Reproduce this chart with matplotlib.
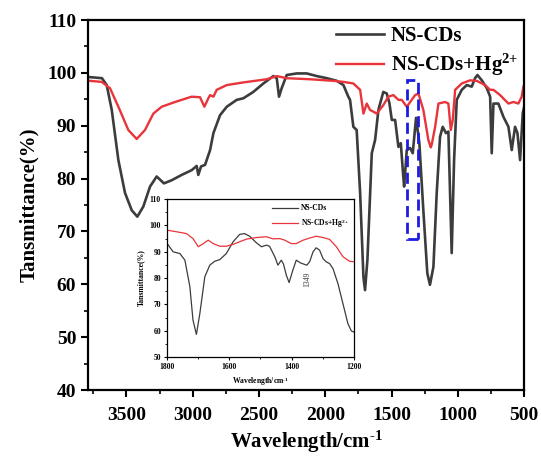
import numpy as np
import matplotlib.pyplot as plt
from matplotlib.patches import Rectangle
from matplotlib.ticker import MultipleLocator

plt.rcParams['font.family'] = ['Liberation Serif', 'DejaVu Serif']
plt.rcParams['font.weight'] = 'bold'
plt.rcParams['mathtext.fontset'] = 'custom'
plt.rcParams['mathtext.rm'] = 'Liberation Serif:bold'
plt.rcParams['mathtext.bf'] = 'Liberation Serif:bold'
plt.rcParams['mathtext.it'] = 'Liberation Serif:bold'

# ============
# main spectrum data (wavenumber / transmittance)
# ============
wn_cds = [3775, 3685, 3649, 3611, 3561, 3511, 3460, 3418, 3373, 3322, 3272, 3217,
          3158, 3083, 3008, 2970, 2958, 2937, 2907, 2869, 2844, 2794, 2743, 2668,
          2618, 2543, 2467, 2392, 2366, 2349, 2329, 2291, 2215, 2140, 2064, 1989,
          1913, 1863, 1826, 1813, 1788, 1763, 1737, 1712, 1700, 1682, 1649, 1624,
          1599, 1562, 1536, 1516, 1498, 1473, 1448, 1430, 1415, 1405, 1385, 1360,
          1340, 1315, 1290, 1260, 1230, 1210, 1184, 1159, 1134, 1114, 1089, 1071,
          1046, 1028, 1008, 970, 932, 895, 870, 852, 819, 781, 756, 744, 731, 694,
          656, 618, 593, 568, 550, 530, 510, 500]
tr_cds = [99.2, 99.0, 97.7, 93.0, 83.5, 77.3, 74.0, 72.8, 74.7, 78.5, 80.4, 79.1,
          79.7, 80.7, 81.6, 82.4, 80.7, 82.3, 82.6, 85.4, 88.6, 92.0, 93.6, 94.9,
          95.2, 96.4, 98.0, 99.4, 99.0, 95.5, 97.1, 99.6, 99.9, 99.9, 99.4, 99.0,
          98.5, 97.7, 95.5, 94.9, 89.8, 89.2, 77.3, 61.4, 58.9, 64.6, 84.8, 87.3,
          93.0, 96.4, 96.1, 94.3, 91.1, 91.1, 86.0, 86.7, 81.6, 78.5, 85.4, 85.8,
          84.8, 91.5, 86.7, 74.0, 62.1, 59.9, 63.3, 77.3, 87.9, 89.8, 88.6, 88.9,
          65.9, 83.5, 94.9, 96.8, 97.7, 97.4, 99.0, 99.6, 98.6, 97.1, 95.5, 84.8,
          94.2, 94.2, 91.7, 89.8, 85.4, 89.8, 88.6, 83.5, 92.4, 93.5]

wn_hg = [3775, 3687, 3624, 3561, 3486, 3423, 3360, 3297, 3234, 3133, 3008, 2945,
         2912, 2882, 2869, 2844, 2819, 2743, 2618, 2442, 2366, 2291, 2115, 1939,
         1863, 1788, 1737, 1712, 1687, 1662, 1611, 1562, 1524, 1486, 1448, 1423,
         1385, 1322, 1297, 1260, 1222, 1204, 1197, 1171, 1146, 1096, 1071, 1053,
         1038, 1020, 970, 907, 857, 794, 756, 731, 681, 618, 580, 543, 518, 505]
tr_hg = [98.5, 98.3, 97.1, 93.6, 89.2, 87.5, 89.2, 92.3, 93.6, 94.5, 95.5, 95.4,
         93.6, 95.2, 95.8, 95.5, 96.8, 97.7, 98.2, 98.8, 99.4, 99.0, 98.8, 98.5,
         98.3, 98.0, 96.8, 92.3, 94.2, 93.0, 92.3, 93.9, 95.5, 95.8, 94.9, 94.9,
         93.6, 95.8, 96.1, 93.0, 87.3, 85.9, 86.4, 89.8, 94.2, 94.5, 94.2, 89.2,
         91.1, 96.8, 98.0, 98.6, 98.5, 97.7, 96.8, 96.8, 95.8, 94.2, 94.5, 94.2,
         95.5, 97.4]

# ============
# inset data (1800-1200 cm-1)
# ============
wn_cds_in = [1800, 1781, 1759, 1743, 1727, 1717, 1706, 1695, 1679, 1663, 1647, 1631,
             1610, 1588, 1567, 1551, 1535, 1513, 1497, 1481, 1471, 1454, 1444, 1433,
             1426, 1417, 1408, 1396, 1385, 1372, 1361, 1351, 1342, 1331, 1321, 1310,
             1299, 1289, 1278, 1267, 1251, 1235, 1219, 1208, 1200]
tr_cds_in = [93.1, 90.0, 89.3, 86.8, 76.7, 64.0, 58.6, 66.5, 80.5, 84.9, 86.4, 87.0,
             89.3, 93.8, 96.6, 96.9, 95.9, 93.4, 91.9, 92.5, 92.1, 88.1, 84.9, 86.8,
             85.3, 81.1, 78.3, 83.0, 86.8, 85.8, 85.3, 84.9, 86.2, 90.0, 91.5, 90.6,
             87.4, 86.2, 85.5, 83.6, 77.9, 70.3, 62.7, 59.9, 59.5]
wn_hg_in = [1800, 1770, 1738, 1717, 1700, 1684, 1668, 1652, 1631, 1610, 1588, 1567,
            1545, 1513, 1481, 1460, 1438, 1422, 1401, 1385, 1363, 1342, 1321, 1299,
            1278, 1256, 1235, 1214, 1200]
tr_hg_in = [98.2, 97.6, 96.9, 95.0, 91.9, 93.1, 94.4, 93.1, 92.1, 92.1, 92.8, 93.8,
            94.8, 95.4, 95.7, 94.9, 95.0, 94.4, 93.1, 93.1, 94.4, 95.2, 95.9, 95.4,
            94.7, 91.9, 88.1, 86.4, 86.2]

c_cds = '#3c3c3c'
c_hg = '#e8343a'
lab_hg = 'NS-CDs+Hg$^{2{+}}$'
lab_x = 'Wavelength/cm$^{\\text{-}1}$'

fig = plt.figure(figsize=(5.41, 4.59), dpi=100)
ax = fig.add_axes([0.1627, 0.1503, 0.806, 0.806])
ax.plot(wn_cds, tr_cds, color=c_cds, lw=1.9, label='NS-CDs')
ax.plot(wn_hg, tr_hg, color=c_hg, lw=1.7, label=lab_hg)
ax.add_patch(Rectangle((1300, 68.5), 85, 30.2, fill=False, edgecolor='#1c1ce0',
                       lw=2.0, ls=(0, (4, 2)), zorder=5))
ax.set_xlim(3790, 500)
ax.set_ylim(40, 110)
ax.xaxis.set_major_locator(MultipleLocator(500))
ax.xaxis.set_minor_locator(MultipleLocator(250))
ax.yaxis.set_major_locator(MultipleLocator(10))
ax.yaxis.set_minor_locator(MultipleLocator(5))
ax.tick_params(which='major', direction='out', length=5, width=1.5, labelsize=14)
ax.tick_params(axis='x', which='major', pad=7)
ax.tick_params(which='minor', direction='out', length=3, width=1.2)
for sp in ax.spines.values():
    sp.set_linewidth(1.6)
ax.set_xlabel(lab_x, fontsize=15, fontweight='bold', labelpad=4)
ax.set_ylabel('Tansmittance(%)', fontsize=15, fontweight='bold', labelpad=6)
ax.legend(loc='upper right', frameon=False, fontsize=15, handlelength=2.3,
          borderaxespad=0.1, labelspacing=0.3, handletextpad=0.3,
          bbox_to_anchor=(1.01, 1.012))

# inset
axi = fig.add_axes([0.309, 0.2222, 0.345, 0.344])
axi.plot(wn_cds_in, tr_cds_in, color=c_cds, lw=0.9, label='NS-CDs')
axi.plot(wn_hg_in, tr_hg_in, color=c_hg, lw=0.9, label=lab_hg)
axi.text(1349, 79.5, '1349', rotation=90, fontsize=5.5, fontweight='normal',
         ha='center', va='center', color='#333333')
axi.set_xlim(1800, 1200)
axi.set_ylim(50, 110)
axi.xaxis.set_major_locator(MultipleLocator(200))
axi.xaxis.set_minor_locator(MultipleLocator(100))
axi.yaxis.set_major_locator(MultipleLocator(10))
axi.yaxis.set_minor_locator(MultipleLocator(5))
axi.tick_params(which='major', direction='out', length=2.5, width=0.8, labelsize=5.5, pad=2)
axi.tick_params(which='minor', direction='out', length=1.5, width=0.6)
for sp in axi.spines.values():
    sp.set_linewidth(0.9)
axi.set_xlabel(lab_x, fontsize=5.5, fontweight='bold', labelpad=3)
axi.set_ylabel('Tansmittance(%)', fontsize=5.5, fontweight='bold', labelpad=3)
axi.legend(loc='upper right', frameon=False, fontsize=5.5, handlelength=3.5,
           borderaxespad=0.3, handletextpad=0.3, labelspacing=0.6)

fig.savefig('out.png', dpi=100)
